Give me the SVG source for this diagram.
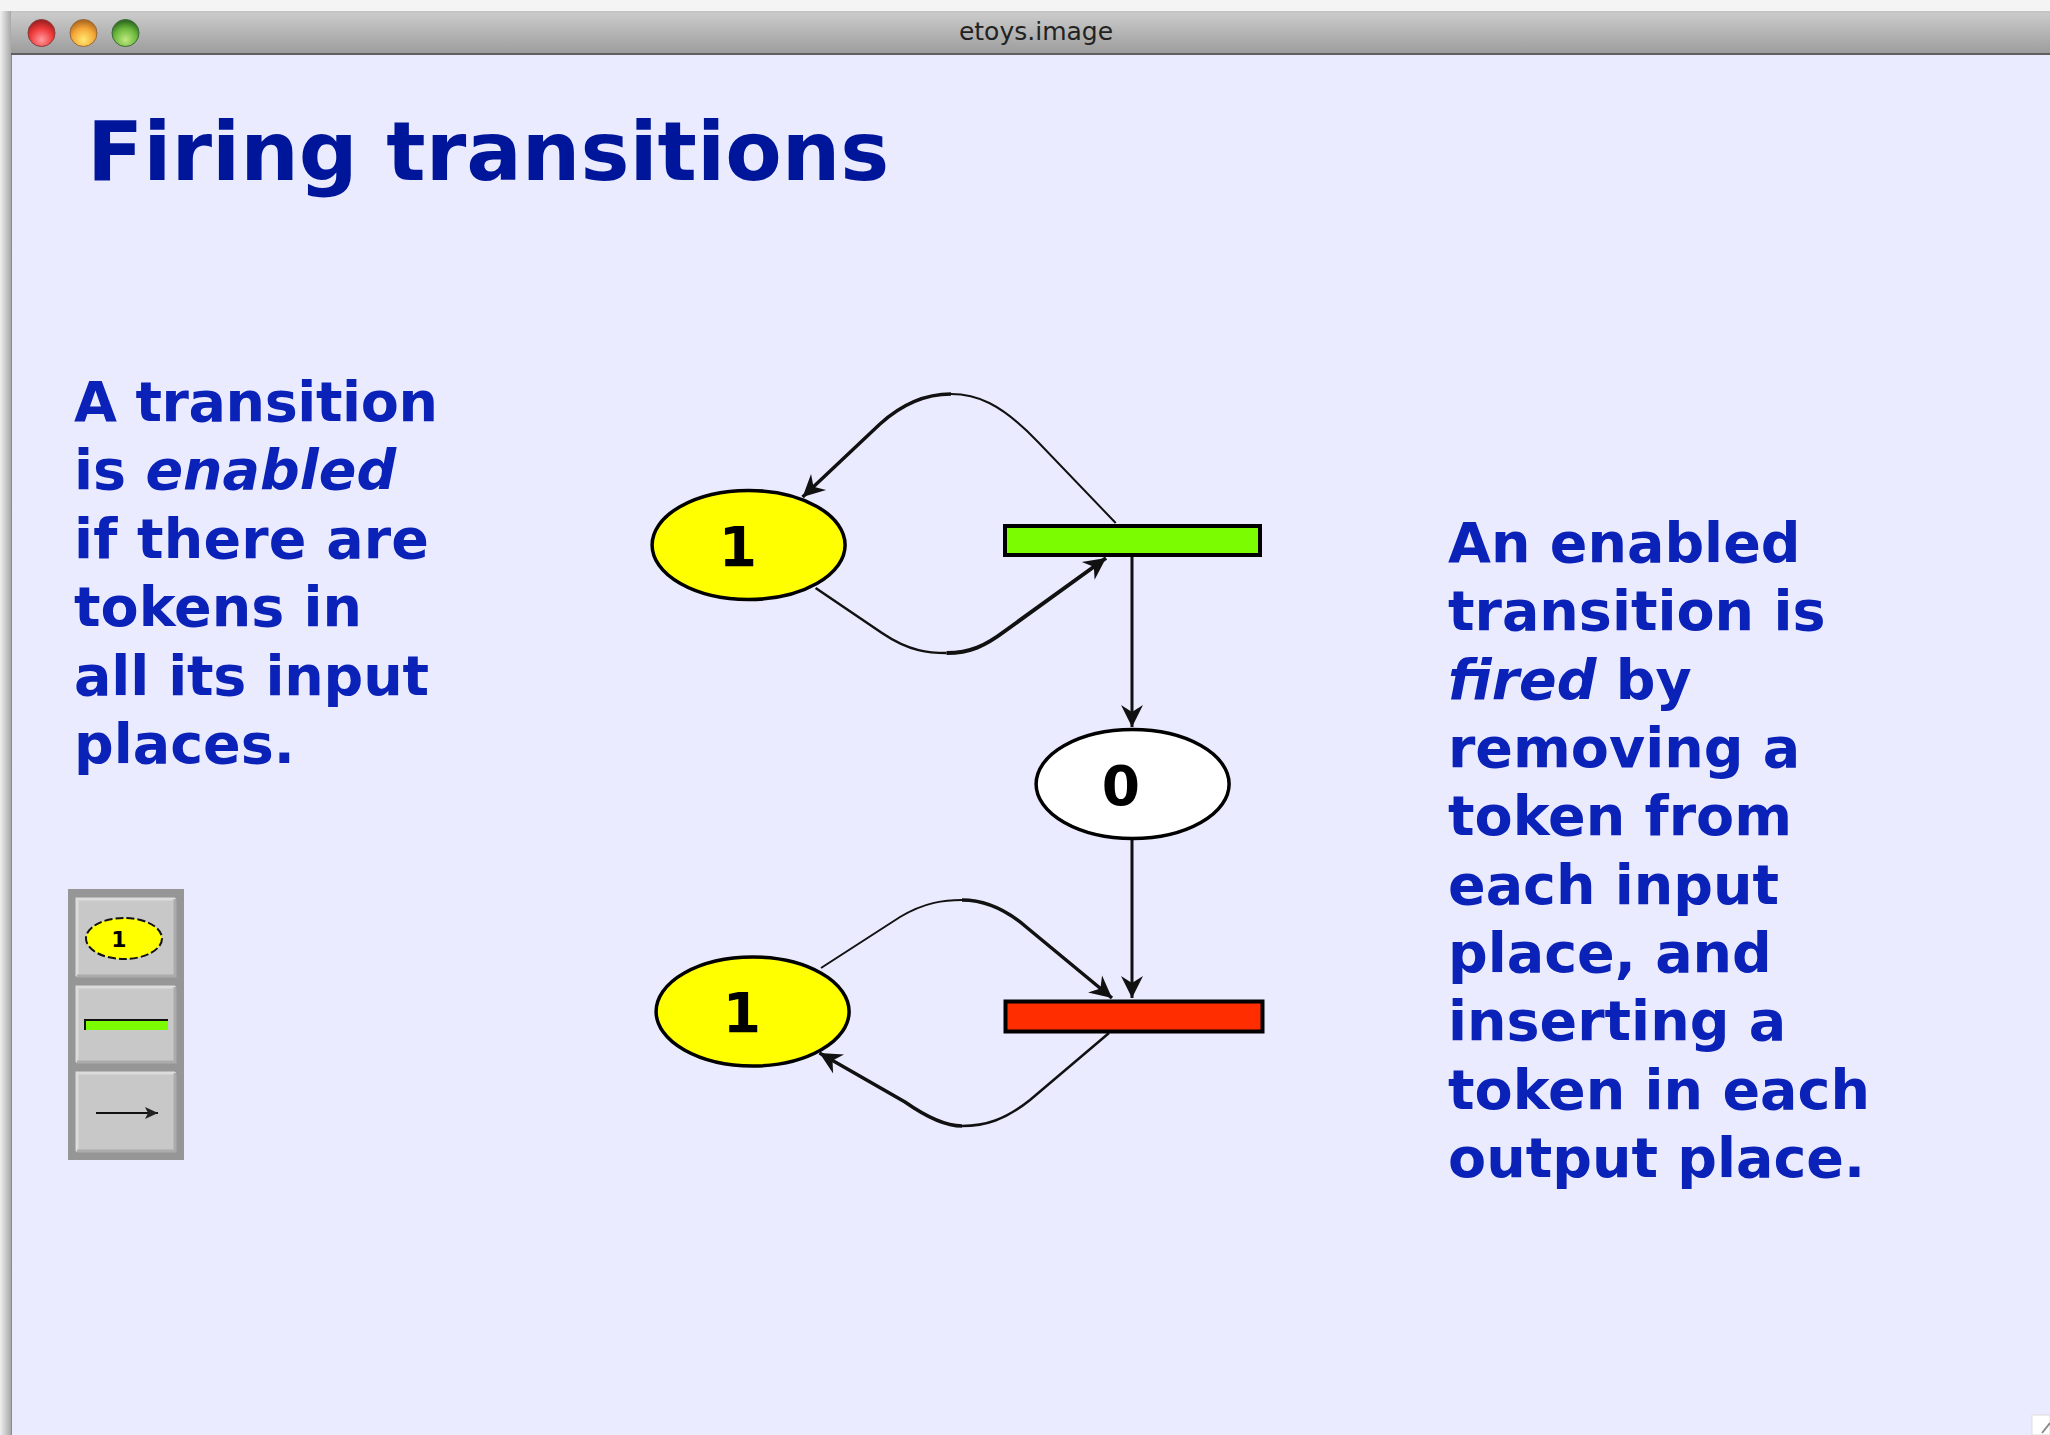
<svg xmlns="http://www.w3.org/2000/svg" width="2050" height="1435" viewBox="0 0 2050 1435">
<style>
.t{font-family:"DejaVu Sans",sans-serif;font-weight:700}
.b{font-size:55.500px;fill:#0A22B8}
.i{font-style:italic}
.n{stroke:#000;stroke-width:3.500}
.c{fill:none;stroke:#111}
.lab{font-size:55px;fill:#000;text-anchor:middle}
.btn{fill:#C8C8C8}
.hi{fill:none;stroke:#DCDCDC;stroke-width:3}
.lo{fill:none;stroke:#ABABAB;stroke-width:3}
</style>
<defs>
<linearGradient id="bar" x1="0" y1="0" x2="0" y2="1"><stop offset="0" stop-color="#cdcdcd"/><stop offset="1" stop-color="#9c9c9c"/></linearGradient>
<linearGradient id="edge" x1="0" y1="0" x2="1" y2="0"><stop offset="0" stop-color="#f0f0f0"/><stop offset="1" stop-color="#a8a8a8"/></linearGradient>
<linearGradient id="top" x1="0" y1="0" x2="0" y2="1"><stop offset="0" stop-color="#f4f4f4"/><stop offset="1" stop-color="#e6e6e6"/></linearGradient>
<radialGradient id="r" cy="0.75" r="0.7"><stop offset="0" stop-color="#ff9aa0"/><stop offset="0.6" stop-color="#f03a3a"/><stop offset="1" stop-color="#a02020"/></radialGradient>
<radialGradient id="o" cy="0.75" r="0.7"><stop offset="0" stop-color="#ffe870"/><stop offset="0.6" stop-color="#f5a838"/><stop offset="1" stop-color="#b06a20"/></radialGradient>
<radialGradient id="g" cy="0.75" r="0.7"><stop offset="0" stop-color="#c0e880"/><stop offset="0.6" stop-color="#6cb83c"/><stop offset="1" stop-color="#306a20"/></radialGradient>
<marker id="arrow" markerUnits="userSpaceOnUse" markerWidth="24" markerHeight="24" refX="22" refY="12" orient="auto"><path d="M0 1 L22 12 L0 23 L7 12 Z" fill="#111"/></marker>
<marker id="mini" markerUnits="userSpaceOnUse" markerWidth="14" markerHeight="14" refX="13" refY="7" orient="auto"><path d="M0 1 L13 7 L0 13 L3 7 Z" fill="#222"/></marker>
</defs>

<g id="window">
<rect width="2050" height="1435" fill="url(#top)"/>
<rect x="0" y="11" width="11" height="1424" fill="url(#edge)"/>
<rect x="11" y="11" width="2039" height="43" fill="url(#bar)"/>
<rect x="11" y="11" width="2039" height="2" fill="#c4c4c4"/>
<rect x="11" y="53" width="2039" height="2" fill="#5f5f5f"/>
<rect x="11" y="55" width="2039" height="1380" fill="#EBEBFF"/>
<rect x="11" y="55" width="1" height="1380" fill="#8a8a8a"/>
<circle cx="41.500" cy="33" r="13.500" fill="url(#r)" stroke="#8a3a3a"/>
<circle cx="83.500" cy="33" r="13.500" fill="url(#o)" stroke="#96683a"/>
<circle cx="125.500" cy="33" r="13.500" fill="url(#g)" stroke="#3a6a3a"/>
<text x="1036" y="40" text-anchor="middle" font-family="'DejaVu Sans',sans-serif" font-size="25" fill="#222">etoys.image</text>
<rect x="2032" y="1415" width="18" height="20" fill="#fff" stroke="#ddd"/>
<path d="M2050 1423 L2042 1433" stroke="#888" stroke-width="2"/>
</g>

<text id="title" class="t" x="87" y="180" font-size="82.300" fill="#00169A">Firing transitions</text>

<g id="text-left" class="t b">
<text x="74" y="421" textLength="364">A transition</text>
<text x="74" y="489">is <tspan class="i">enabled</tspan></text>
<text x="74" y="558" textLength="355">if there are</text>
<text x="74" y="626">tokens in</text>
<text x="74" y="695" textLength="355">all its input</text>
<text x="74" y="763">places.</text>
</g>

<g id="text-right" class="t b">
<text x="1448" y="562">An enabled</text>
<text x="1448" y="630">transition is</text>
<text x="1448" y="699"><tspan class="i">fired</tspan> by</text>
<text x="1448" y="767">removing a</text>
<text x="1448" y="835">token from</text>
<text x="1448" y="904">each input</text>
<text x="1448" y="972">place, and</text>
<text x="1448" y="1040">inserting a</text>
<text x="1448" y="1109">token in each</text>
<text x="1448" y="1177">output place.</text>
</g>

<g id="connectors">
<path class="c" stroke-width="2" d="M1115.700 523 L1038 442 C1000 402 975 394 951 394"/>
<path class="c" stroke-width="3.500" d="M951 394 C925 394 902 404 880 424 L802.600 497" marker-end="url(#arrow)"/>
<path class="c" stroke-width="2.500" d="M815.600 588 L882 633 C910 652 930 653 946.600 653"/>
<path class="c" stroke-width="4" d="M946.600 653 C970 653 985 646 1005 631 L1106 558" marker-end="url(#arrow)"/>
<path class="c" stroke-width="3" d="M1132 557 V727" marker-end="url(#arrow)"/>
<path class="c" stroke-width="3" d="M1132 839 V998" marker-end="url(#arrow)"/>
<path class="c" stroke-width="2" d="M821 968 L900 917 C925 902 945 900 962 900"/>
<path class="c" stroke-width="3.500" d="M962 900 C985 900 1005 909 1025 926 L1112 998" marker-end="url(#arrow)"/>
<path class="c" stroke-width="2.500" d="M1109 1033 L1030 1100 C1005 1120 985 1126 962 1126"/>
<path class="c" stroke-width="3.500" d="M962 1126 C945 1126 925 1116 905 1102 L819.500 1053" marker-end="url(#arrow)"/>
</g>

<g id="place-top"><ellipse class="n" cx="748.600" cy="545" rx="96.500" ry="54.500" fill="#FFFF00"/><text class="t lab" x="738" y="566">1</text></g>
<g id="transition-green"><rect x="1005" y="526" width="255" height="29" fill="#7CFC00" stroke="#000" stroke-width="4"/></g>
<g id="place-middle"><ellipse class="n" cx="1132.600" cy="784" rx="96.500" ry="54.500" fill="#FFFFFF"/><text class="t lab" x="1121" y="805">0</text></g>
<g id="place-bottom"><ellipse class="n" cx="752.600" cy="1011.500" rx="96.500" ry="54.500" fill="#FFFF00"/><text class="t lab" x="742" y="1032">1</text></g>
<g id="transition-red"><rect x="1005.500" y="1001.500" width="257" height="30" fill="#FF2D00" stroke="#000" stroke-width="4"/></g>

<g id="palette">
<rect x="68" y="889" width="116" height="271" fill="#969696"/>
<rect class="btn" x="76" y="898" width="100" height="79"/>
<path class="hi" d="M77 976 V899 H175"/><path class="lo" d="M175 899 V976 H77"/>
<rect class="btn" x="76" y="986" width="100" height="77"/>
<path class="hi" d="M77 1062 V987 H175"/><path class="lo" d="M175 987 V1062 H77"/>
<rect class="btn" x="76" y="1072" width="100" height="80"/>
<path class="hi" d="M77 1151 V1073 H175"/><path class="lo" d="M175 1073 V1151 H77"/>
<ellipse cx="124" cy="938.500" rx="38" ry="20.500" fill="#FFFF00" stroke="#111" stroke-width="2" stroke-dasharray="8 3"/>
<text class="t" x="119" y="947" font-size="22" fill="#000" text-anchor="middle">1</text>
<rect x="84" y="1020" width="84" height="10" fill="#7CFC00"/>
<path d="M85 1030 V1020 H168" fill="none" stroke="#111" stroke-width="2"/>
<path class="c" stroke-width="2" d="M96 1113 H158" marker-end="url(#mini)"/>
</g>
</svg>
